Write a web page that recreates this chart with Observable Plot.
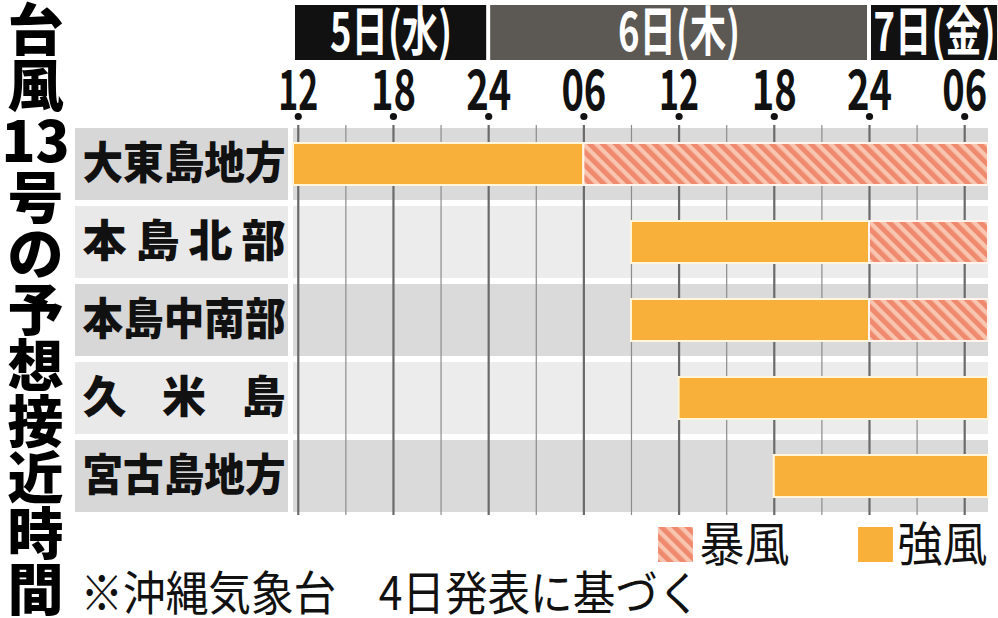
<!DOCTYPE html>
<html>
<head>
<meta charset="utf-8">
<script src="https://cdn.jsdelivr.net/npm/d3@7"></script>
<script src="https://cdn.jsdelivr.net/npm/@observablehq/plot@0.6"></script>
<style>
  html, body { margin: 0; padding: 0; background: #fff; }
</style>
</head>
<body>
<div id="chart"></div>
<script>
// ---- data ----
const titleChars = ["台", "風", "13", "号", "の", "予", "想", "接", "近", "時", "間"];
const regions = ["大東島地方", "本島北部", "本島中南部", "久米島", "宮古島地方"];
// hours counted from 5日 00:00
const xStart = 11.7;   // left edge of the time axis
const xEnd = 55.5;     // right edge of the time axis
const strongStart = [xStart, 33, 33, 36, 42];
const strongEnd   = [30, 48, 48, xEnd, xEnd];
const stormStart  = [30, 48, 48, null, null];
const stormEnd    = [xEnd, xEnd, xEnd, null, null];
const tickHours  = [12, 18, 24, 30, 36, 42, 48, 54];
const tickLabels = ["12", "18", "24", "06", "12", "18", "24", "06"];
const gridHours  = [12, 15, 18, 21, 24, 27, 30, 33, 36, 39, 42, 45, 48, 51, 54];
const days      = ["5日(水)", "6日(木)", "7日(金)"];
const dayStart  = [xStart, 24, 48];
const dayEnd    = [24, 48, 56.2];
const dayColors = ["#111111", "#5c5853", "#111111"];
const legendLabels = ["暴風", "強風"];
const caption = "※沖縄気象台　4日発表に基づく";

// ---- tables built from the arrays ----
const strong = regions.map((r, i) => ({region: r, x1: strongStart[i], x2: strongEnd[i]}));
const storm = regions.map((r, i) => ({region: r, x1: stormStart[i], x2: stormEnd[i]})).filter(d => d.x1 != null);
const dayTable = days.map((d, i) => ({label: d, x1: dayStart[i], x2: dayEnd[i], fill: dayColors[i]}));
const ticks = tickHours.map((h, i) => ({h, label: tickLabels[i]}));
const oddRows = regions.filter((d, i) => i % 2 === 0);
const evenRows = regions.filter((d, i) => i % 2 === 1);

const ORANGE = "#f9b03a";
const FONT = "'Noto Sans CJK JP', 'Noto Sans', sans-serif";

const plot = Plot.plot({
  width: 998,
  height: 618,
  marginLeft: 293,
  marginRight: 10,
  marginTop: 125,
  marginBottom: 103,
  style: {fontFamily: FONT, background: "#fff", color: "#000"},
  x: {domain: [xStart, xEnd], axis: null},
  y: {domain: regions, axis: null, paddingInner: 0.08, paddingOuter: 0.02},
  marks: [
    // label cells
    Plot.cell(oddRows, {y: d => d, fill: "#d7d7d7", insetLeft: -218, insetRight: 700}),
    Plot.cell(evenRows, {y: d => d, fill: "#e9e9e9", insetLeft: -218, insetRight: 700}),
    // plot row backgrounds
    Plot.cell(oddRows, {y: d => d, fill: "#dadada"}),
    Plot.cell(evenRows, {y: d => d, fill: "#ececec"}),
    // grid
    Plot.ruleX(gridHours.filter(h => h % 6 !== 0), {x: d => d, stroke: "#8c8c8c", strokeWidth: 1.2}),
    Plot.ruleX(gridHours.filter(h => h % 6 === 0), {x: d => d, stroke: "#6a6a6a", strokeWidth: 2.2}),
    // bars
    Plot.barX(strong, {x1: "x1", x2: "x2", y: "region", fill: ORANGE, stroke: "#fff6dc", strokeWidth: 2, insetTop: 15, insetBottom: 15}),
    Plot.barX(storm, {x1: "x1", x2: "x2", y: "region", fill: "url(#hatch)", stroke: "#fff4ee", strokeWidth: 2, insetTop: 15, insetBottom: 15}),
    // row labels
    Plot.text(regions, {y: d => d, text: d => d, frameAnchor: "left", dx: -211, textAnchor: "start",
      lineAnchor: "middle", fontSize: 44, fontWeight: 900, fill: "#111"}),
    // day header bands
    Plot.rect(dayTable, {x1: "x1", x2: "x2", fill: "fill", insetTop: -120, insetBottom: 455, insetLeft: 2, insetRight: 2}),
    Plot.text(dayTable, {x: d => (d.x1 + d.x2) / 2, text: "label", frameAnchor: "top", dy: -91, lineAnchor: "middle",
      fontSize: 53, fontWeight: 700, fill: "#fff"}),
    // tick labels & dots
    Plot.text(ticks, {x: "h", text: "label", frameAnchor: "top", dy: -33, lineAnchor: "middle", fontSize: 55, fontWeight: 700,
      fill: "#111"}),
    Plot.dot(ticks, {x: "h", frameAnchor: "top", dy: -9, r: 3.6, fill: "#111", stroke: "none"}),
    // vertical title
    Plot.text([titleChars.join("\n")], {text: d => d, frameAnchor: "top-left", dx: -258, dy: -115,
      lineAnchor: "top", lineHeight: 1.0, fontSize: 56, fontWeight: 900, fill: "#000", textAnchor: "middle"}),
    // legend
    Plot.dot([legendLabels[0]], {frameAnchor: "bottom-right", dx: -313, dy: 29, symbol: "square", r: 19.7,
      fill: "url(#hatch)", stroke: "none"}),
    Plot.text([legendLabels[0]], {text: d => d, frameAnchor: "bottom-right", dx: -289, dy: 30, textAnchor: "start",
      lineAnchor: "middle", fontSize: 47, fontWeight: 400, fill: "#111"}),
    Plot.dot([legendLabels[1]], {frameAnchor: "bottom-right", dx: -113, dy: 29, symbol: "square", r: 19.7,
      fill: ORANGE, stroke: "none"}),
    Plot.text([legendLabels[1]], {text: d => d, frameAnchor: "bottom-right", dx: -91, dy: 30, textAnchor: "start",
      lineAnchor: "middle", fontSize: 47, fontWeight: 400, fill: "#111"}),
    // caption
    Plot.text([caption], {text: d => d, frameAnchor: "bottom-left", dx: -213, dy: 79, textAnchor: "start",
      lineAnchor: "middle", fontSize: 47, fontWeight: 400, fill: "#111"})
  ]
});

// hatch pattern
const svg = d3.select(plot);
const defs = svg.insert("defs", ":first-child");
const P = 9.2;
const pat = defs.append("pattern").attr("id", "hatch").attr("patternUnits", "userSpaceOnUse")
  .attr("width", P).attr("height", P).attr("patternTransform", "rotate(-45)");
pat.append("rect").attr("width", P).attr("height", P).attr("fill", "#f8c5b0");
pat.append("rect").attr("width", 5).attr("height", P).attr("fill", "#ef8a6e");

// condensed / justified text widths, matched by content
const widths = new Map();
regions.forEach(r => widths.set(r, [203, r.length >= 5 ? "spacingAndGlyphs" : "spacing"]));
days.forEach(d => widths.set(d, [122, "spacingAndGlyphs"]));
tickLabels.forEach(t => widths.set(t, [t === "12" ? 40 : 45, "spacingAndGlyphs"]));
legendLabels.forEach(t => widths.set(t, [90, "spacingAndGlyphs"]));
widths.set(caption, [620, "spacingAndGlyphs"]);
svg.selectAll("text").each(function() {
  if (this.querySelector("tspan")) return;
  const w = widths.get(this.textContent);
  if (w) d3.select(this).attr("textLength", w[0]).attr("lengthAdjust", w[1]);
});

document.getElementById("chart").appendChild(plot);
</script>
</body>
</html>
